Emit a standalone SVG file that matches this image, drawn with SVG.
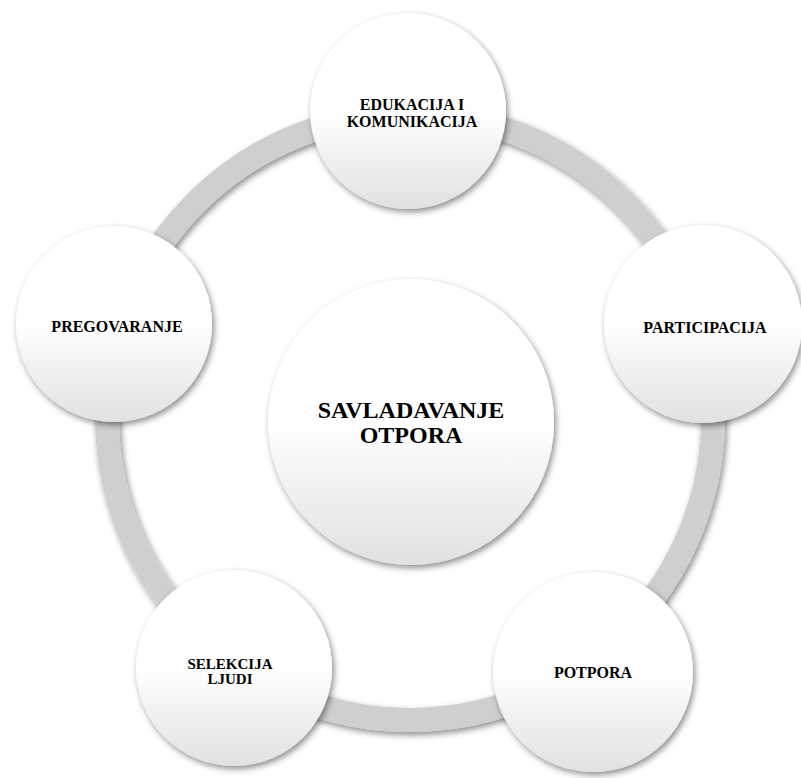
<svg xmlns="http://www.w3.org/2000/svg" width="801" height="778" viewBox="0 0 801 778">
  <defs>
    <linearGradient id="fillGrad" x1="0" y1="0" x2="0" y2="1">
      <stop offset="0" stop-color="#ffffff"/>
      <stop offset="0.5" stop-color="#ffffff"/>
      <stop offset="1" stop-color="#e1e1e1"/>
    </linearGradient>
    <filter id="shadow" x="-20%" y="-20%" width="140%" height="140%">
      <feGaussianBlur in="SourceAlpha" stdDeviation="3"/>
      <feOffset dx="2" dy="3" result="b"/>
      <feFlood flood-color="#000000" flood-opacity="0.45"/>
      <feComposite in2="b" operator="in" result="s"/>
      <feMerge>
        <feMergeNode in="s"/>
        <feMergeNode in="SourceGraphic"/>
      </feMerge>
    </filter>
  </defs>
  <style>
    .ring { fill: none; stroke: #cfcfcf; stroke-width: 24; }
    .node { fill: url(#fillGrad); }
    .lbl { font-family: "Liberation Serif", "Times New Roman", serif; font-weight: bold; font-size: 16px; fill: #000000; text-anchor: middle; }
    .sm { font-size: 15px; }
    .big { font-size: 24px; }
  </style>
  <rect width="801" height="778" fill="#ffffff"/>
  <g id="connectors">
    <circle class="ring" cx="410" cy="417" r="303" filter="url(#shadow)"/>
  </g>
  <g id="node-center">
    <circle class="node" cx="411" cy="422" r="143" filter="url(#shadow)"/>
    <text class="lbl big" x="411" y="418">SAVLADAVANJE</text>
    <text class="lbl big" x="411" y="443">OTPORA</text>
  </g>
  <g id="node-edukacija">
    <circle class="node" cx="408" cy="111" r="98" filter="url(#shadow)"/>
    <text class="lbl" x="412" y="109.5">EDUKACIJA I</text>
    <text class="lbl" x="412" y="126.5">KOMUNIKACIJA</text>
  </g>
  <g id="node-participacija">
    <circle class="node" cx="703" cy="324" r="99" filter="url(#shadow)"/>
    <text class="lbl" x="705" y="333">PARTICIPACIJA</text>
  </g>
  <g id="node-potpora">
    <circle class="node" cx="593" cy="672" r="100" filter="url(#shadow)"/>
    <text class="lbl" x="593" y="678">POTPORA</text>
  </g>
  <g id="node-selekcija">
    <circle class="node" cx="234" cy="668" r="98" filter="url(#shadow)"/>
    <text class="lbl sm" x="230" y="669">SELEKCIJA</text>
    <text class="lbl sm" x="230" y="684">LJUDI</text>
  </g>
  <g id="node-pregovaranje">
    <circle class="node" cx="114" cy="324" r="98" filter="url(#shadow)"/>
    <text class="lbl" x="117" y="331.5">PREGOVARANJE</text>
  </g>
</svg>
